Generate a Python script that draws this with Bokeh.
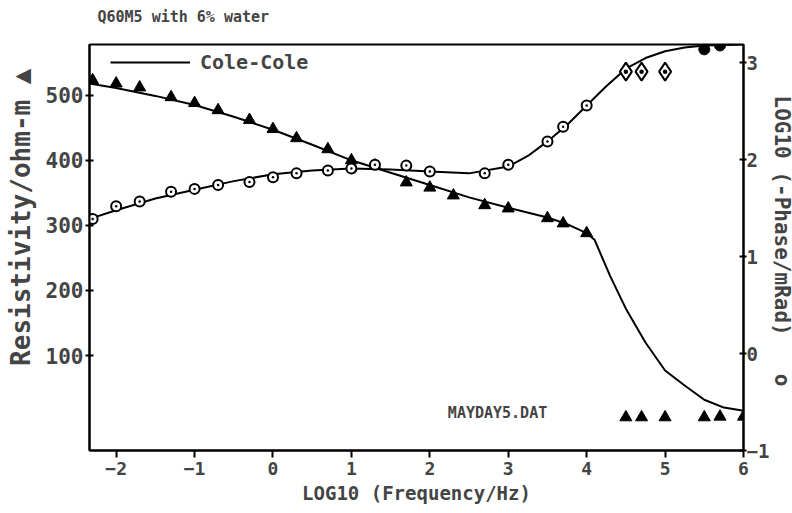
from bokeh.plotting import figure
from bokeh.models import Range1d, LinearAxis, FixedTicker, Legend, LegendItem, Label, Title
from bokeh.embed import file_html
from bokeh.resources import INLINE

# ---- data ----
# measured resistivity (triangles), left axis
res_x = [-2.3, -2.0, -1.7, -1.3, -1.0, -0.7, -0.3, 0.0, 0.3, 0.7, 1.0, 1.3, 1.7, 2.0,
         2.3, 2.7, 3.0, 3.5, 3.7, 4.0, 4.5, 4.7, 5.0, 5.5, 5.7, 6.0]
res_y = [523, 518, 512, 497, 488, 477, 462, 448, 434, 417, 400, 392, 366, 358,
         346, 331, 326, 311, 303, 288, 5, 5, 5, 5, 6, 6]

# measured phase (circles), right axis, LOG10(-phase/mrad)
ph_x = [-2.3, -2.0, -1.7, -1.3, -1.0, -0.7, -0.3, 0.0, 0.3, 0.7, 1.0, 1.3, 1.7, 2.0,
        2.7, 3.0, 3.5, 3.7, 4.0]
ph_y = [1.39, 1.52, 1.57, 1.67, 1.70, 1.74, 1.77, 1.82, 1.86, 1.89, 1.91, 1.95, 1.94, 1.88,
        1.86, 1.95, 2.19, 2.34, 2.56]
# phase points drawn as diamonds
phd_x = [4.5, 4.7, 5.0]
phd_y = [2.91, 2.91, 2.91]
# phase points drawn filled
phf_x = [5.5, 5.7]
phf_y = [3.14, 3.18]

# Cole-Cole model curves
cc_res_x = [-2.34, -2.0, -1.5, -1.0, -0.5, 0.0, 0.5, 1.0, 1.5, 2.0, 2.5, 3.0, 3.5, 3.75,
            4.0, 4.1, 4.3, 4.5, 4.75, 5.0, 5.25, 5.5, 5.75, 6.0]
cc_res_y = [518, 511, 499, 485, 467, 447, 424, 400, 381, 362, 343, 327, 312, 302,
            288, 278, 222, 172, 120, 77, 54, 32, 20, 15]
cc_ph_x = [-2.34, -2.0, -1.5, -1.0, -0.5, 0.0, 0.5, 1.0, 1.5, 2.0, 2.5, 3.0, 3.25, 3.5,
           3.75, 4.0, 4.25, 4.5, 4.75, 5.0, 5.25, 5.5, 6.0]
cc_ph_y = [1.39, 1.48, 1.60, 1.69, 1.78, 1.85, 1.89, 1.91, 1.90, 1.88, 1.86, 1.93, 2.04, 2.19,
           2.36, 2.56, 2.76, 2.94, 3.05, 3.12, 3.16, 3.18, 3.19]

x_ticks = [-2, -1, 0, 1, 2, 3, 4, 5, 6]
left_ticks = [100, 200, 300, 400, 500]
right_ticks = [-1, 0, 1, 2, 3]

FONT = "DejaVu Sans Mono"

W, H = 792, 513
FL, FR, FT, FB = 89, 743, 44, 450          # frame edges in page pixels
FW, FH = FR - FL, FB - FT

p = figure(width=W, height=H, x_range=Range1d(-2.34, 6.0), y_range=Range1d(-46, 578),
           output_backend="svg", toolbar_location=None,
           min_border_left=FL, min_border_right=W - FR, min_border_top=FT,
           min_border_bottom=H - FB)
p.extra_y_ranges = {"phase": Range1d(-1.0, 3.19)}
p.title_location = None

p.grid.visible = False
p.outline_line_color = "black"
p.outline_line_width = 2

# spacer + title above the frame
p.add_layout(Title(text="\u00a0", text_font_size="2px", standoff=13), "above")
p.add_layout(Title(text="Q60M5 with 6% water", text_font=FONT, text_font_size="15px",
                   text_font_style="bold", align="left", offset=8,
                   vertical_align="top", standoff=0), "above")

# bottom axis
xa = p.xaxis[0]
xa.ticker = FixedTicker(ticks=x_ticks)
xa.axis_label = "LOG10 (Frequency/Hz)"
xa.axis_label_text_font = FONT
xa.axis_label_text_font_size = "19px"
xa.axis_label_text_font_style = "bold"
xa.axis_label_standoff = 4
xa.major_label_text_font = FONT
xa.major_label_text_font_size = "18px"
xa.major_label_text_font_style = "bold"
xa.major_label_standoff = 4
xa.minor_tick_line_color = None
xa.major_tick_in = 0
xa.major_tick_out = 7
xa.axis_line_width = 2
xa.major_tick_line_width = 2

# left axis
ya = p.yaxis[0]
ya.ticker = FixedTicker(ticks=left_ticks)
ya.major_label_text_font = FONT
ya.major_label_text_font_size = "21px"
ya.major_label_text_font_style = "bold"
ya.major_label_standoff = 2
ya.minor_tick_line_color = None
ya.major_tick_in = 4
ya.major_tick_out = 4
ya.axis_line_width = 2
ya.major_tick_line_width = 2

# right axis
ra = LinearAxis(y_range_name="phase", ticker=FixedTicker(ticks=right_ticks))
ra.major_label_text_font = FONT
ra.major_label_text_font_size = "19px"
ra.major_label_text_font_style = "bold"
ra.major_label_standoff = 0
ra.minor_tick_line_color = None
ra.major_tick_in = 4
ra.major_tick_out = 3
ra.axis_line_width = 2
ra.major_tick_line_width = 2
p.add_layout(ra, "right")

# axis titles as side titles (allow positioning along the axis)
p.add_layout(Title(text="Resistivity/ohm-m \u25b2", text_font=FONT, text_font_size="26px",
                   text_font_style="bold", align="right", offset=24,
                   vertical_align="top", standoff=10), "left")
rtitle = Title(text="LOG10 (-Phase/mRad)\u00a0\u00a0\u00a0o", text_font=FONT,
               text_font_size="21px", text_font_style="bold", align="left", offset=51,
               vertical_align="bottom", standoff=0)
try:
    rtitle.standoff = -6
except Exception:
    rtitle.standoff = 0
p.add_layout(rtitle, "right")

# curves
l1 = p.line(cc_res_x, cc_res_y, line_color="black", line_width=2)
p.line(cc_ph_x, cc_ph_y, line_color="black", line_width=2, y_range_name="phase")

# markers
p.scatter(res_x, res_y, marker="triangle", size=12, fill_color="black", line_color="black")
p.scatter(ph_x, ph_y, marker="circle_dot", size=10, fill_color="white", line_color="black",
          line_width=2, y_range_name="phase")
p.scatter(phd_x, phd_y, marker="diamond_dot", size=18, fill_color="white", line_color="black",
          line_width=2, y_range_name="phase")
p.scatter(phf_x, phf_y, marker="circle", size=11, fill_color="black", line_color="black",
          y_range_name="phase")

legend = Legend(items=[LegendItem(label="Cole-Cole", renderers=[l1])],
                location=(21, FH - 30), margin=0, padding=0, glyph_width=80,
                label_standoff=10, border_line_alpha=0, background_fill_alpha=0,
                label_text_font=FONT, label_text_font_size="20px",
                label_text_font_style="bold")
p.add_layout(legend)

p.add_layout(Label(x=2.23, y=11, text="MAYDAY5.DAT", text_font=FONT,
                   text_font_size="15px", text_font_style="bold",
                   text_baseline="middle", text_align="left"))

open("out.html", "w").write(file_html(p, INLINE))
